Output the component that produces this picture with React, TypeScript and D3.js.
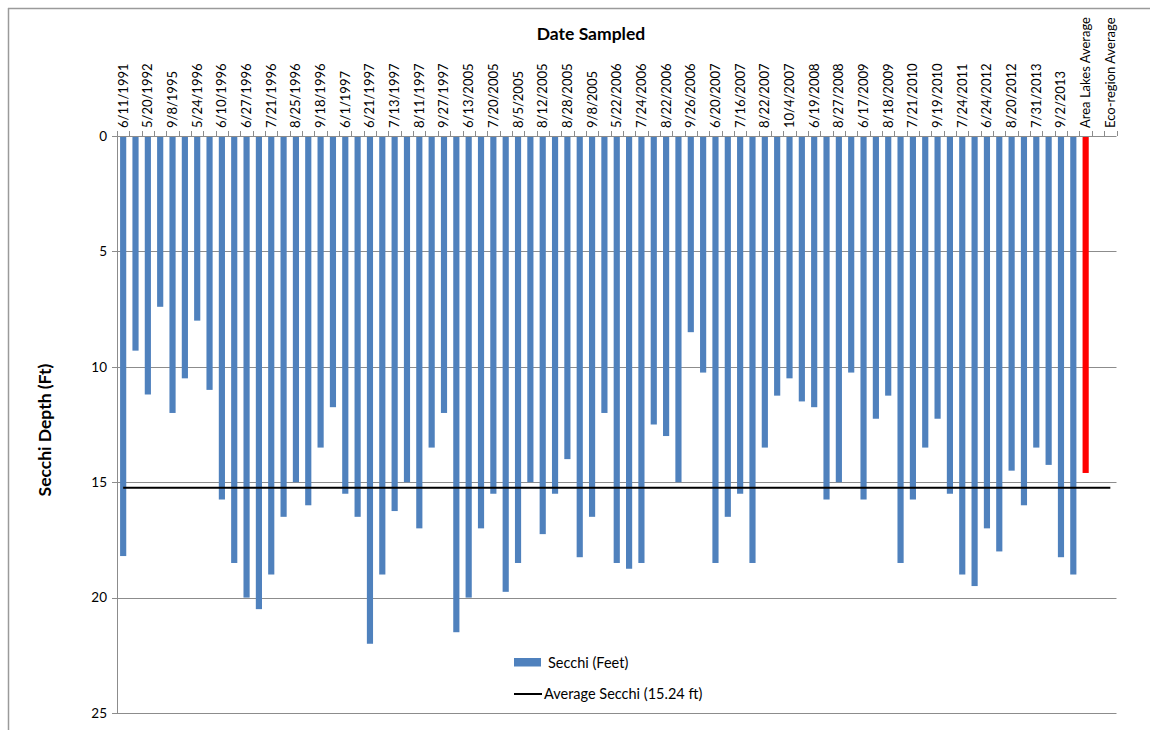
import React from "react";
import * as d3 from "d3";

// Labels printed along the top axis (every second sampling slot carries one).
const tickLabels: string[] = [
  "6/11/1991", "5/20/1992", "9/8/1995", "5/24/1996", "6/10/1996", "6/27/1996",
  "7/21/1996", "8/25/1996", "9/18/1996", "6/1/1997", "6/21/1997", "7/13/1997",
  "8/11/1997", "9/27/1997", "6/13/2005", "7/20/2005", "8/5/2005", "8/12/2005",
  "8/28/2005", "9/8/2005", "5/22/2006", "7/24/2006", "8/22/2006", "9/26/2006",
  "6/20/2007", "7/16/2007", "8/22/2007", "10/4/2007", "6/19/2008", "8/27/2008",
  "6/17/2009", "8/18/2009", "7/21/2010", "9/19/2010", "7/24/2011", "6/24/2012",
  "8/20/2012", "7/31/2013", "9/2/2013", "Area Lakes Average", "Eco-region Average",
];

// Secchi depth readings (feet), one per sampling date, in order.
const secchiFeet: number[] = [
  18.2, 9.3, 11.2, 7.4, 12.0, 10.5, 8.0, 11.0, 15.75, 18.5,
  20.0, 20.5, 19.0, 16.5, 15.0, 16.0, 13.5, 11.75, 15.5, 16.5,
  22.0, 19.0, 16.25, 15.0, 17.0, 13.5, 12.0, 21.5, 20.0, 17.0,
  15.5, 19.75, 18.5, 15.0, 17.25, 15.5, 14.0, 18.25, 16.5, 12.0,
  18.5, 18.75, 18.5, 12.5, 13.0, 15.0, 8.5, 10.25, 18.5, 16.5,
  15.5, 18.5, 13.5, 11.25, 10.5, 11.5, 11.75, 15.75, 15.0, 10.25,
  15.75, 12.25, 11.25, 18.5, 15.75, 13.5, 12.25, 15.5, 19.0, 19.5,
  17.0, 18.0, 14.5, 16.0, 13.5, 14.25, 18.25, 19.0,
];

const areaLakesAverage = 14.6;
const averageSecchi = 15.24;
const yTicks: number[] = [0, 5, 10, 15, 20, 25];

const FONT = "Lato, 'Open Sans', sans-serif";
const W = 1150;
const H = 730;
const plot = { left: 117, right: 1116.5, top: 136, bottom: 713 };

// Total slots on the category axis: every sample, then the two averages
// with an empty slot between them.
const slotCount = secchiFeet.length + 3;
const areaSlot = secchiFeet.length;
const ecoSlot = secchiFeet.length + 2;

export default function App() {
  const x = d3
    .scaleBand<number>()
    .domain(d3.range(slotCount))
    .range([plot.left, plot.right])
    .padding(0);
  const y = d3.scaleLinear().domain([0, 25]).range([plot.top, plot.bottom]);
  const step = x.step();
  const barW = step * 0.5;
  const cx = (i: number) => (x(i) as number) + step / 2;

  const labelSlots = tickLabels.map((label, k) => ({
    label,
    slot: k === tickLabels.length - 1 ? ecoSlot : k === tickLabels.length - 2 ? areaSlot : k * 2,
  }));

  const avgLine = d3
    .line<number>()
    .x((i) => cx(i))
    .y(() => y(averageSecchi));

  const gridColor = "#8c8c8c";

  return (
    <svg
      width={W}
      height={H}
      style={{ position: "absolute", left: 0, top: 0, display: "block", background: "#fff" }}
    >
      {/* chart frame */}
      <line x1={8} y1={8.5} x2={W} y2={8.5} stroke="#9a9a9a" strokeWidth={1.5} />
      <line x1={8.5} y1={8} x2={8.5} y2={H} stroke="#9a9a9a" strokeWidth={1.5} />

      {/* horizontal gridlines */}
      {yTicks.slice(1).map((t) => (
        <line
          key={t}
          x1={plot.left}
          x2={plot.right}
          y1={Math.round(y(t)) + 0.5}
          y2={Math.round(y(t)) + 0.5}
          stroke={gridColor}
          strokeWidth={1}
        />
      ))}

      {/* bars */}
      {secchiFeet.map((v, i) => (
        <rect
          key={i}
          x={cx(i) - barW / 2}
          y={y(0)}
          width={barW}
          height={y(v) - y(0)}
          fill="#4F81BD"
        />
      ))}
      <rect
        x={cx(areaSlot) - barW / 2}
        y={y(0)}
        width={barW}
        height={y(areaLakesAverage) - y(0)}
        fill="#FF0000"
      />

      {/* average line across all slots */}
      <path
        d={avgLine(d3.range(slotCount)) as string}
        fill="none"
        stroke="#000"
        strokeWidth={2}
      />

      {/* top category axis */}
      <line
        x1={plot.left}
        x2={plot.right}
        y1={Math.round(y(0)) + 0.5}
        y2={Math.round(y(0)) + 0.5}
        stroke={gridColor}
      />
      {d3.range(slotCount + 1).map((i) => {
        const xx = Math.round(plot.left + i * step) + 0.5;
        return (
          <line key={i} x1={xx} x2={xx} y1={y(0) - 5} y2={y(0)} stroke={gridColor} />
        );
      })}
      {labelSlots.map(({ label, slot }) => (
        <text
          key={label}
          transform={`translate(${cx(slot) + 4.5},${y(0) - 8}) rotate(-90)`}
          fontFamily={FONT}
          fontSize={13}
          fill="#000"
        >
          {label}
        </text>
      ))}

      {/* left value axis */}
      <line
        x1={plot.left + 0.5}
        x2={plot.left + 0.5}
        y1={plot.top}
        y2={plot.bottom}
        stroke={gridColor}
      />
      {yTicks.map((t) => (
        <g key={t}>
          <line
            x1={plot.left - 5}
            x2={plot.left}
            y1={Math.round(y(t)) + 0.5}
            y2={Math.round(y(t)) + 0.5}
            stroke={gridColor}
          />
          <text
            x={plot.left - 10}
            y={y(t)}
            dy="0.35em"
            textAnchor="end"
            fontFamily={FONT}
            fontSize={13.5}
            fill="#000"
          >
            {t}
          </text>
        </g>
      ))}

      {/* titles */}
      <text
        x={591}
        y={40}
        textAnchor="middle"
        fontFamily={FONT}
        fontSize={17.5}
        fontWeight="bold"
        fill="#000"
      >
        Date Sampled
      </text>
      <text
        transform={`translate(51,430) rotate(-90)`}
        textAnchor="middle"
        fontFamily={FONT}
        fontSize={17.5}
        fontWeight="bold"
        fill="#000"
      >
        Secchi Depth (Ft)
      </text>

      {/* legend */}
      <rect x={514} y={658} width={27} height={8.5} fill="#4F81BD" />
      <text x={548} y={662.5} dy="0.35em" fontFamily={FONT} fontSize={14.5} fill="#000">
        Secchi (Feet)
      </text>
      <line x1={514} x2={542} y1={694} y2={694} stroke="#000" strokeWidth={2} />
      <text x={544} y={694} dy="0.35em" fontFamily={FONT} fontSize={14.5} fill="#000">
        Average Secchi (15.24 ft)
      </text>
    </svg>
  );
}
